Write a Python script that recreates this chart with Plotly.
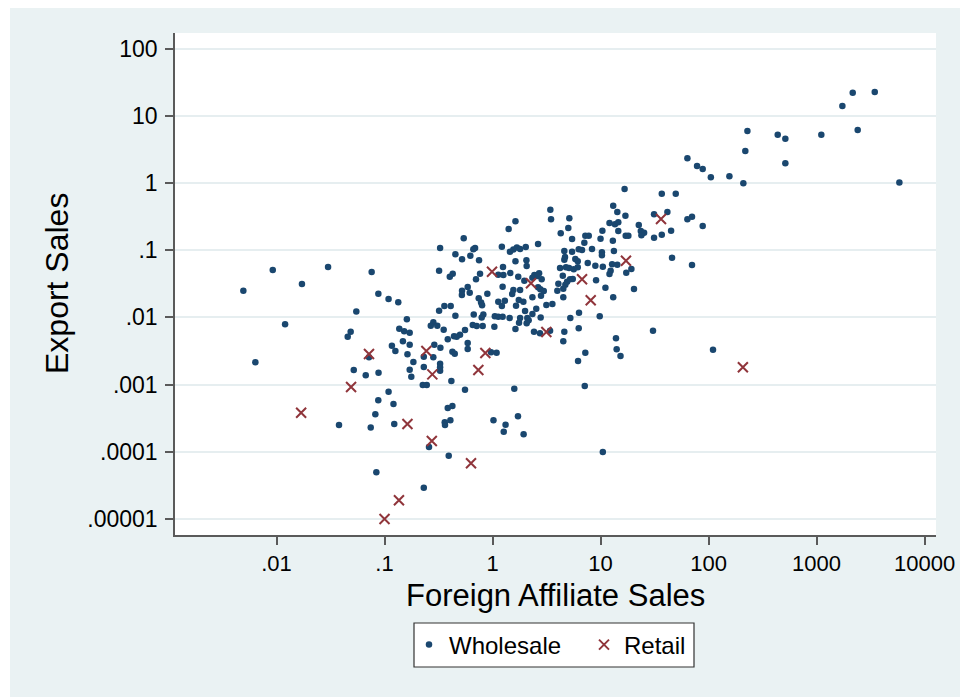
import plotly.graph_objects as go

# Foreign affiliate sales vs. export sales, wholesale firms
wholesale_fa = [
    0.00923, 0.0300, 0.0760, 0.00493, 0.0172, 0.0877, 0.0548, 0.0120, 0.0486, 0.0456,
    0.0718, 0.00637, 0.0519, 0.0670, 0.0880, 0.0875, 0.0822, 0.0379, 0.0745, 0.0840,
    0.541, 0.327, 0.689, 0.664, 0.453, 0.522, 0.623, 0.750, 0.320, 0.402,
    0.428, 0.766, 0.703, 1.13, 0.589, 0.522, 0.520, 0.615, 0.895, 0.745,
    0.783, 0.800, 1.13, 0.109, 0.134, 0.358, 0.410, 0.320, 0.453, 0.670,
    0.822, 0.794, 1.05, 1.13, 0.161, 0.283, 0.268, 0.308, 0.353, 0.656,
    0.714, 0.811, 1.04, 0.137, 0.152, 0.171, 0.556, 0.500, 0.440, 0.466,
    0.385, 0.148, 0.171, 0.589, 0.117, 0.126, 0.589, 0.289, 0.329, 0.425,
    0.447, 0.969, 1.09, 0.163, 0.231, 0.283, 0.185, 0.327, 0.327, 0.327,
    0.231, 0.171, 0.177, 0.416, 0.226, 0.246, 0.109, 0.556, 0.121, 0.385,
    0.425, 1.59, 0.123, 0.361, 0.363, 0.407, 1.02, 1.72, 1.32, 1.27,
    1.94, 0.258, 0.393, 0.231, 3.43, 3.48, 1.63, 1.41, 5.14, 5.03,
    4.28, 13.1, 14.3, 12.1, 13.6, 14.6, 10.4, 14.6, 5.45, 7.23,
    7.78, 7.08, 10.0, 13.0, 2.64, 1.22, 1.56, 1.68, 1.80, 2.03,
    1.45, 4.62, 5.45, 6.28, 6.74, 8.34, 10.3, 10.3, 13.3, 4.69,
    4.62, 5.84, 6.15, 2.06, 2.07, 1.63, 1.25, 7.61, 8.95, 10.5,
    12.8, 14.3, 4.22, 4.79, 5.11, 5.65, 6.15, 1.46, 1.26, 1.73,
    12.1, 12.4, 4.47, 2.44, 2.70, 2.60, 2.34, 2.85, 1.97, 5.22,
    5.53, 4.90, 9.09, 4.07, 4.72, 4.52, 3.98, 1.24, 1.56, 1.52,
    1.80, 2.64, 2.77, 2.98, 2.81, 2.34, 11.1, 1.30, 1.75, 1.93,
    4.52, 13.1, 3.58, 3.15, 1.65, 1.22, 2.54, 2.00, 2.34, 6.32,
    9.83, 1.24, 1.44, 1.80, 1.76, 2.10, 2.16, 2.07, 2.79, 5.25,
    1.63, 2.42, 2.75, 3.41, 4.62, 6.28, 4.52, 13.9, 14.1, 15.3,
    7.23, 6.19, 7.14, 10.5, 63.7, 78.3, 88.3, 105, 156, 210,
    16.7, 36.9, 49.7, 17.0, 31.3, 41.6, 63.7, 70.3, 88.3, 22.6,
    23.6, 25.3, 23.9, 17.1, 18.1, 31.3, 36.9, 45.0, 45.9, 70.3,
    19.3, 17.3, 20.4, 30.6, 110, 2163, 3459, 1734, 229, 437,
    514, 1107, 2405, 219, 514, 5848,
]
wholesale_ex = [
    0.0507, 0.0562, 0.0474, 0.0250, 0.0314, 0.0225, 0.0122, 0.00789, 0.00612, 0.00516,
    0.00255, 0.00215, 0.00165, 0.00138, 0.00150, 0.000583, 0.000361, 0.000251, 0.000229, 0.0000495,
    0.150, 0.108, 0.108, 0.103, 0.0869, 0.0732, 0.0828, 0.0708, 0.0495, 0.0403,
    0.0447, 0.0447, 0.0369, 0.0432, 0.0283, 0.0250, 0.0215, 0.0233, 0.0225, 0.0192,
    0.0166, 0.0151, 0.0171, 0.0188, 0.0168, 0.0148, 0.0148, 0.0126, 0.0106, 0.0110,
    0.0110, 0.0100, 0.0104, 0.0102, 0.00938, 0.00847, 0.00754, 0.00754, 0.00656, 0.00771,
    0.00745, 0.00745, 0.00728, 0.00679, 0.00621, 0.00592, 0.00649, 0.00553, 0.00524, 0.00516,
    0.00472, 0.00441, 0.00393, 0.00416, 0.00379, 0.00316, 0.00339, 0.00393, 0.00354, 0.00309,
    0.00288, 0.00303, 0.00299, 0.00282, 0.00260, 0.00255, 0.00217, 0.00205, 0.00181, 0.00161,
    0.00183, 0.00167, 0.00131, 0.00113, 0.000987, 0.000987, 0.000783, 0.000839, 0.000514, 0.000449,
    0.000481, 0.000869, 0.000259, 0.000275, 0.000251, 0.000294, 0.000294, 0.000337, 0.000253, 0.000199,
    0.000182, 0.000118, 0.0000875, 0.0000292, 0.401, 0.288, 0.269, 0.207, 0.298, 0.214,
    0.178, 0.459, 0.370, 0.254, 0.243, 0.260, 0.195, 0.193, 0.147, 0.164,
    0.164, 0.129, 0.148, 0.138, 0.124, 0.113, 0.102, 0.110, 0.104, 0.112,
    0.0950, 0.0973, 0.0950, 0.103, 0.101, 0.104, 0.0931, 0.0840, 0.0973, 0.0792,
    0.0722, 0.0740, 0.0684, 0.0708, 0.0582, 0.0684, 0.0562, 0.0645, 0.0588, 0.0568,
    0.0617, 0.0608, 0.0543, 0.0557, 0.0543, 0.0520, 0.0557, 0.0458, 0.0428, 0.0403,
    0.0442, 0.0495, 0.0418, 0.0428, 0.0453, 0.0413, 0.0390, 0.0369, 0.0352, 0.0369,
    0.0373, 0.0340, 0.0356, 0.0317, 0.0307, 0.0267, 0.0250, 0.0286, 0.0256, 0.0223,
    0.0256, 0.0281, 0.0262, 0.0247, 0.0210, 0.0199, 0.0277, 0.0177, 0.0182, 0.0171,
    0.0199, 0.0199, 0.0158, 0.0153, 0.0149, 0.0148, 0.0135, 0.0125, 0.0112, 0.0117,
    0.0104, 0.0102, 0.00980, 0.00980, 0.00834, 0.00980, 0.00906, 0.00817, 0.0100, 0.00980,
    0.00672, 0.00612, 0.00580, 0.00634, 0.00612, 0.00689, 0.00441, 0.00489, 0.00335, 0.00267,
    0.00299, 0.00224, 0.000953, 0.0000993, 2.33, 1.79, 1.61, 1.22, 1.26, 0.990,
    0.814, 0.693, 0.693, 0.326, 0.342, 0.370, 0.288, 0.315, 0.229, 0.237,
    0.193, 0.182, 0.167, 0.164, 0.164, 0.153, 0.170, 0.195, 0.0773, 0.0602,
    0.0525, 0.0463, 0.0265, 0.00634, 0.00331, 22.1, 22.6, 14.0, 5.94, 5.23,
    4.56, 5.23, 6.15, 2.99, 1.96, 1.02,
]

# Retail firms
retail_fa = [
    0.0169, 0.0490, 0.0718, 0.100, 0.136, 0.163, 0.244, 0.274, 0.277, 0.632,
    0.739, 0.858, 0.989, 2.27, 3.15, 6.74, 8.11, 17.2, 36.3, 208,
]
retail_ex = [
    0.000382, 0.000921, 0.00285, 0.0000100, 0.0000190, 0.000259, 0.00316, 0.000145, 0.00142, 0.0000675,
    0.00165, 0.00295, 0.0479, 0.0322, 0.00607, 0.0369, 0.0180, 0.0698, 0.291, 0.00181,
]

x_ticks = [0.01, 0.1, 1, 10, 100, 1000, 10000]
x_tick_text = [".01", ".1", "1", "10", "100", "1000", "10000"]
y_ticks = [100, 10, 1, 0.1, 0.01, 0.001, 0.0001, 0.00001]
y_tick_text = ["100", "10", "1", ".1", ".01", ".001", ".0001", ".00001"]

NAVY = "#1A476F"
MAROON = "#90353B"
REGION = "#EAF2F3"
GRID = "#E6EEF0"
AXIS = "#5A5A5A"
FONT = "Liberation Sans, Arial, sans-serif"

W, H = 960, 697
ML, MR, MT, MB = 175, 24, 33, 162
PW, PH = W - ML - MR, H - MT - MB


def px_to_paper_x(px):
    return (px - ML) / PW


def px_to_paper_y(py):
    return (H - MB - py) / PH


fig = go.Figure()
fig.add_trace(go.Scatter(
    x=wholesale_fa, y=wholesale_ex, mode="markers", name="Wholesale",
    marker=dict(symbol="circle", size=6.5, color=NAVY, line=dict(width=0)),
    legend="legend",
))
fig.add_trace(go.Scatter(
    x=retail_fa, y=retail_ex, mode="markers", name="Retail",
    marker=dict(symbol="x-thin-open", size=10, color=MAROON,
                line=dict(width=2, color=MAROON)),
    legend="legend2",
))

shapes = [
    # white frame strips on the left and top edges of the graph region
    dict(type="rect", xref="paper", yref="paper", layer="below",
         x0=px_to_paper_x(0), x1=px_to_paper_x(10),
         y0=px_to_paper_y(H), y1=px_to_paper_y(0),
         fillcolor="white", line=dict(width=0)),
    dict(type="rect", xref="paper", yref="paper", layer="below",
         x0=px_to_paper_x(0), x1=px_to_paper_x(W),
         y0=px_to_paper_y(8), y1=px_to_paper_y(0),
         fillcolor="white", line=dict(width=0)),
    # legend frame
    dict(type="rect", xref="paper", yref="paper", layer="below",
         x0=px_to_paper_x(414), x1=px_to_paper_x(694),
         y0=px_to_paper_y(667), y1=px_to_paper_y(623),
         fillcolor="white", line=dict(width=1.2, color="#333333")),
]

legend_common = dict(
    orientation="h", yanchor="middle", y=px_to_paper_y(645),
    xanchor="left", bgcolor="rgba(0,0,0,0)", borderwidth=0,
    font=dict(size=24, family=FONT, color="black"),
    itemsizing="trace",
)

annotations = [
    dict(text="Foreign Affiliate Sales", xref="paper", yref="paper",
         x=0.5, y=px_to_paper_y(595), xanchor="center", yanchor="middle",
         showarrow=False, font=dict(size=31, family=FONT, color="black")),
    dict(text="Export Sales", xref="paper", yref="paper",
         x=px_to_paper_x(57), y=0.5, xanchor="center", yanchor="middle",
         textangle=-90, showarrow=False,
         font=dict(size=32, family=FONT, color="black")),
]

fig.update_layout(
    width=W, height=H, autosize=False,
    margin=dict(l=ML, r=MR, t=MT, b=MB, pad=0),
    paper_bgcolor=REGION, plot_bgcolor="white",
    font=dict(family=FONT, color="black"),
    shapes=shapes,
    annotations=annotations,
    showlegend=True,
    legend=dict(legend_common, x=px_to_paper_x(409)),
    legend2=dict(legend_common, x=px_to_paper_x(584)),
    xaxis=dict(
        type="log", range=[-2.94, 4.106],
        tickvals=x_ticks, ticktext=x_tick_text,
        ticks="outside", ticklen=8, tickwidth=1.5, tickcolor=AXIS,
        showline=True, linecolor=AXIS, linewidth=1.5,
        showgrid=False, zeroline=False,
        tickfont=dict(size=22, family=FONT, color="black"),
        ticklabelstandoff=0,
        automargin=False,
    ),
    yaxis=dict(
        type="log", range=[-5.238, 2.232],
        tickvals=y_ticks, ticktext=y_tick_text,
        ticks="outside", ticklen=8, tickwidth=1.5, tickcolor=AXIS,
        showline=True, linecolor=AXIS, linewidth=1.5,
        showgrid=True, gridcolor=GRID, gridwidth=2,
        zeroline=False,
        tickfont=dict(size=23, family=FONT, color="black"),
        ticklabelstandoff=3,
        automargin=False,
    ),
)

fig.write_html("out.html")
